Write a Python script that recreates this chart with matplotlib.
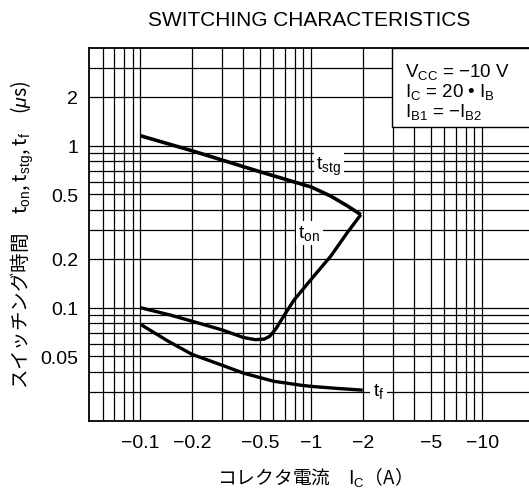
import numpy as np
import matplotlib
matplotlib.use("Agg")
import matplotlib.pyplot as plt
from matplotlib.ticker import FixedLocator, FixedFormatter, NullFormatter
from matplotlib.patches import Rectangle

plt.rcParams['font.family'] = ['Liberation Sans', 'DejaVu Sans']
plt.rcParams['mathtext.fontset'] = 'custom'
plt.rcParams['mathtext.rm'] = 'Liberation Sans'
plt.rcParams['mathtext.it'] = 'Liberation Sans:italic'
plt.rcParams['mathtext.bf'] = 'Liberation Sans:bold'

# collector current Ic (A) vs switching time (us)
ic_stg = [-0.1, -0.2, -0.5, -1.0, -1.3, -1.63, -1.95]
t_stg = [1.15, 0.93, 0.69, 0.555, 0.488, 0.424, 0.375]

ic_on = [-0.1, -0.15, -0.2, -0.3, -0.4, -0.47, -0.53, -0.57, -0.62, -0.7, -0.79, -1.0, -1.3, -1.63, -1.95]
t_on = [0.100, 0.090, 0.0826, 0.073, 0.0655, 0.0635, 0.064, 0.0665, 0.074, 0.091, 0.111, 0.150, 0.208, 0.292, 0.375]

ic_f = [-0.1, -0.144, -0.2, -0.3, -0.4, -0.6, -0.86, -1.0, -1.4, -2.0]
t_f = [0.079, 0.0625, 0.0516, 0.0442, 0.0395, 0.0352, 0.0333, 0.0327, 0.0318, 0.031]

x_ticks = [-0.1, -0.2, -0.5, -1, -2, -5, -10]
x_labels = ['\u22120.1', '\u22120.2', '\u22120.5', '\u22121', '\u22122', '\u22125', '\u221210']
y_ticks = [0.05, 0.1, 0.2, 0.5, 1, 2]
y_labels = ['0.05', '0.1', '0.2', '0.5', '1', '2']

x_grid = [0.06, 0.07, 0.08, 0.09] + [k / 10 for k in range(1, 10)] + list(range(1, 11))
y_grid = [k / 100 for k in range(3, 10)] + [k / 10 for k in range(1, 10)] + [1, 2, 3]

fig = plt.figure(figsize=(5.29, 4.89), dpi=100)
ax = fig.add_axes([89 / 529, 1 - 422 / 489, 440 / 529, 373 / 489])
ax.set_xscale('log')
ax.set_yscale('log')
ax.set_xlim(0.05, 18.8)
ax.set_ylim(0.02, 4)

ax.xaxis.set_major_locator(FixedLocator(np.abs(x_ticks)))
ax.xaxis.set_major_formatter(FixedFormatter(x_labels))
ax.xaxis.set_minor_locator(FixedLocator(x_grid))
ax.xaxis.set_minor_formatter(NullFormatter())
ax.yaxis.set_major_locator(FixedLocator(y_ticks))
ax.yaxis.set_major_formatter(FixedFormatter(y_labels))
ax.yaxis.set_minor_locator(FixedLocator(y_grid))
ax.yaxis.set_minor_formatter(NullFormatter())
ax.tick_params(which='both', length=0, labelsize=14)
ax.tick_params(axis='x', pad=9)
ax.tick_params(axis='y', pad=8)
ax.grid(True, which='both', color='black', linewidth=0.9)
ax.set_axisbelow(True)

for s in ['left', 'bottom', 'top']:
    ax.spines[s].set_linewidth(1.3)
ax.spines['right'].set_visible(False)

ax.plot(np.abs(ic_stg), t_stg, color='black', lw=2.6, zorder=3, solid_capstyle='butt')
ax.plot(np.abs(ic_on), t_on, color='black', lw=2.4, zorder=3, solid_capstyle='butt')
ax.plot(np.abs(ic_f), t_f, color='black', lw=2.4, zorder=3, solid_capstyle='butt')

lbl_box = dict(facecolor='white', edgecolor='none', pad=2)
ax.text(1.07, 0.75, r't$_{\mathrm{stg}}$', fontsize=14, va='center', ha='left', bbox=lbl_box, zorder=4)
ax.text(0.84, 0.29, r't$_{\mathrm{on}}$', fontsize=14, va='center', ha='left', bbox=lbl_box, zorder=4)
ax.text(2.3, 0.031, r't$_{\mathrm{f}}$', fontsize=14, va='center', ha='left', bbox=lbl_box, zorder=4)

# condition box in the top right corner (runs off the right edge like the scan)
box_x = (392 - 89) / 440
box_y = (422 - 128) / 373
ax.add_patch(Rectangle((box_x, box_y), 1.1 - box_x, 1 - box_y, transform=ax.transAxes,
                       facecolor='white', edgecolor='black', lw=1.0, zorder=2, clip_on=False))
cond = [r'V$_{\mathrm{CC}}$ = $-$10 V', r'I$_{\mathrm{C}}$ = 20 • I$_{\mathrm{B}}$',
        r'I$_{\mathrm{B1}}$ = $-$I$_{\mathrm{B2}}$']
for i, s in enumerate(cond):
    ax.text((405 - 89) / 440, (422 - 72 - 20 * i) / 373, s, transform=ax.transAxes,
            fontsize=13.5, va='center', ha='left', zorder=5)

fig.text(309 / 529, 1 - 20 / 489, 'SWITCHING CHARACTERISTICS', fontsize=15, ha='center', va='center')

cjk = ['Noto Sans CJK JP', 'DejaVu Sans']
fig.text(309 / 529, 1 - 477 / 489, 'コレクタ電流　I$_{\\mathrm{C}}$（A）', family=cjk, fontsize=13.5,
         ha='center', va='center')
fig.text(22 / 529, 1 - 235 / 489,
         'スイッチング時間　t$_{\\mathrm{on}}$, t$_{\\mathrm{stg}}$, t$_{\\mathrm{f}}$　($\\mu$s)',
         family=cjk, fontsize=14, rotation=90, ha='center', va='center')

fig.savefig('out.png', dpi=100)
